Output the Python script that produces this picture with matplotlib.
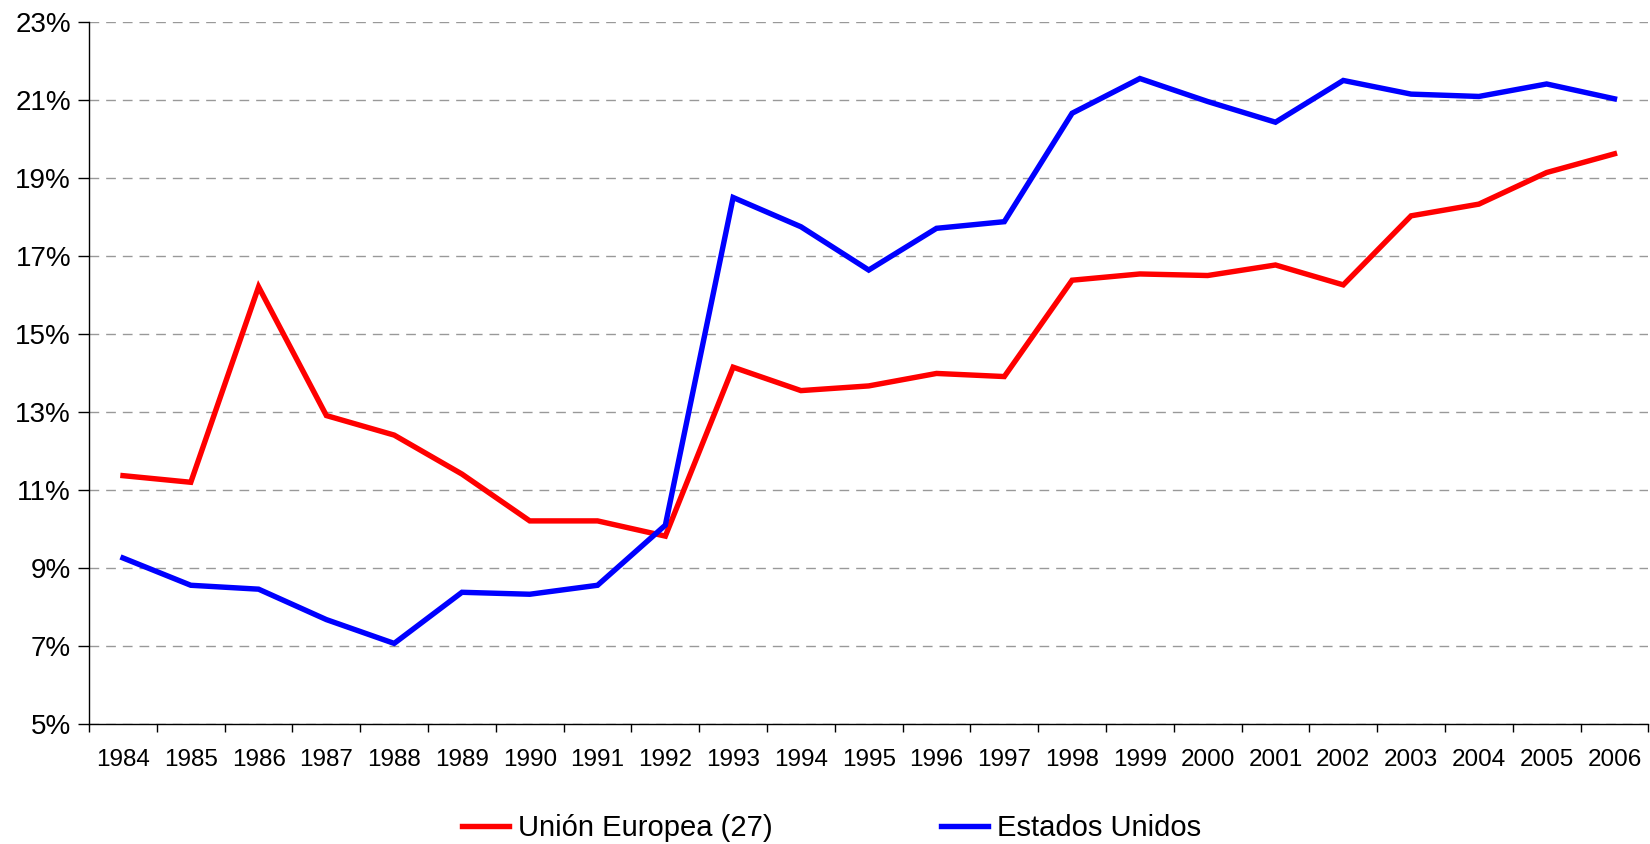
import numpy as np
import matplotlib
matplotlib.use("Agg")
import matplotlib.pyplot as plt
from matplotlib.ticker import FixedLocator, FuncFormatter

# =============================
# DATOS
# =============================
YEARS = [str(y) for y in range(1984, 2007)]

UE27 = [11.37, 11.20, 16.21, 12.91, 12.41, 11.41, 10.21, 10.21, 9.82,
        14.15, 13.55, 13.67, 13.99, 13.91, 16.38, 16.54, 16.50, 16.77,
        16.26, 18.03, 18.33, 19.14, 19.62]

EEUU = [9.26, 8.56, 8.46, 7.68, 7.07, 8.38, 8.33, 8.56, 10.10,
        18.50, 17.75, 16.64, 17.71, 17.88, 20.66, 21.55, 20.96, 20.43,
        21.50, 21.15, 21.09, 21.41, 21.03]

LABELS = ["Unión Europea (27)", "Estados Unidos"]
YTICKS = [5, 7, 9, 11, 13, 15, 17, 19, 21, 23]

plt.rcParams["font.family"] = ["Liberation Sans", "DejaVu Sans"]

# =============================
# FIGURA
# =============================
fig = plt.figure(figsize=(16.5, 8.44), dpi=100)
ax = fig.add_axes([0.054, 0.142, 0.945, 0.832])

x = np.arange(len(YEARS))
ax.plot(x, UE27, color="#ff0000", lw=3.9, solid_joinstyle="miter", label=LABELS[0], zorder=3)
ax.plot(x, EEUU, color="#0000ff", lw=3.9, solid_joinstyle="miter", label=LABELS[1], zorder=3)

ax.set_xlim(-0.5, len(YEARS) - 0.5)
ax.set_ylim(5, 23)

# ejes
for s in ["top", "right"]:
    ax.spines[s].set_visible(False)
ax.spines["left"].set_linewidth(1.0)
ax.spines["bottom"].set_linewidth(1.0)

ax.set_yticks(YTICKS)
ax.yaxis.set_major_formatter(FuncFormatter(lambda v, p: f"{v:.0f}%"))
ax.tick_params(axis="y", length=8, width=1.0, labelsize=20, pad=5)
ax.yaxis.grid(True, linestyle=(0, (7, 5)), color="#999999", lw=1.0)
ax.set_axisbelow(True)

ax.set_xticks(x)
ax.set_xticklabels(YEARS)
ax.tick_params(axis="x", which="major", length=0, labelsize=17.5, pad=18)
ax.xaxis.set_minor_locator(FixedLocator(np.arange(-0.5, len(YEARS), 1.0)))
ax.tick_params(axis="x", which="minor", length=6, width=1.0)

fig.legend(loc="center", bbox_to_anchor=(0.504, 0.019), ncol=2, frameon=False,
           fontsize=21, handlelength=1.6, handletextpad=0.3, columnspacing=5.8)

fig.savefig("out.png", dpi=100)
